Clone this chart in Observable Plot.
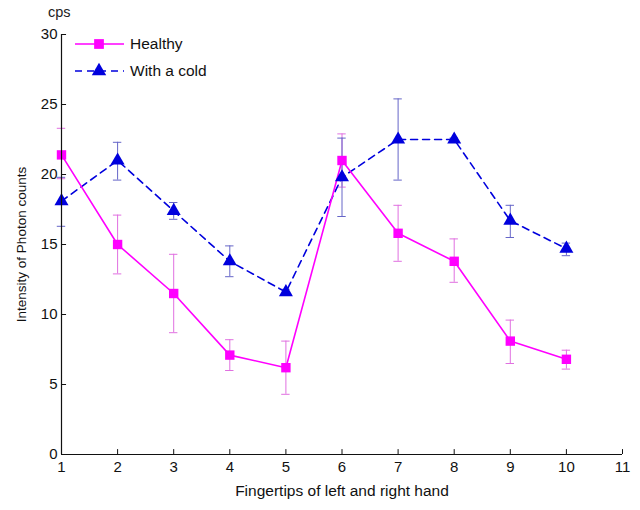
<!DOCTYPE html>
<html>
<head>
<meta charset="utf-8">
<script src="https://cdn.jsdelivr.net/npm/d3@7"></script>
<script src="https://cdn.jsdelivr.net/npm/@observablehq/plot@0.6"></script>
<style>
  body { margin: 0; background: #fff; font-family: "Liberation Sans", Arial, sans-serif; }
  #wrap { position: relative; width: 640px; height: 510px; }
  #cps { position: absolute; left: 48px; top: 4px; font-size: 14.5px; color: #222; }
  #legend { position: absolute; left: 74px; top: 30px; font-size: 15.5px; color: #111; }
  #legend div { height: 27px; display: flex; align-items: center; }
  #legend svg { margin-right: 4px; }
</style>
</head>
<body>
<div id="wrap">
  <div id="chart"></div>
  <div id="cps">cps</div>
  <div id="legend"></div>
</div>
<script>
const fingers = [1, 2, 3, 4, 5, 6, 7, 8, 9, 10];
const healthy = [21.4, 15.0, 11.5, 7.1, 6.2, 21.0, 15.8, 13.8, 8.1, 6.8];
const healthyLo = [19.7, 12.9, 8.7, 6.0, 4.3, 19.1, 13.8, 12.3, 6.5, 6.1];
const healthyHi = [23.3, 17.1, 14.3, 8.2, 8.1, 22.9, 17.8, 15.4, 9.6, 7.45];
const cold = [18.1, 21.0, 17.4, 13.8, 11.6, 19.8, 22.5, 22.5, 16.7, 14.7];
const coldLo = [16.3, 19.6, 16.8, 12.7, 11.4, 17.0, 19.6, 22.4, 15.5, 14.2];
const coldHi = [19.8, 22.3, 18.0, 14.9, 11.8, 22.6, 25.4, 22.6, 17.8, 15.1];
const xTicks = [1, 2, 3, 4, 5, 6, 7, 8, 9, 10, 11];
const yTicks = [0, 5, 10, 15, 20, 25, 30];
const seriesNames = ["Healthy", "With a cold"];

const magenta = "#ff00ff";
const magentaErr = "#e070e0";
const blue = "#0000dd";
const blueErr = "#6666c8";

const H = fingers.map((x, i) => ({x, y: healthy[i], lo: healthyLo[i], hi: healthyHi[i]}));
const C = fingers.map((x, i) => ({x, y: cold[i], lo: coldLo[i], hi: coldHi[i]}));
const cap = 0.075;

const plot = Plot.plot({
  width: 640,
  height: 510,
  marginLeft: 61,
  marginRight: 18,
  marginTop: 34,
  marginBottom: 56,
  style: {fontFamily: "Liberation Sans, Arial, sans-serif", fontSize: "15px", color: "#111"},
  x: {domain: [1, 11]},
  y: {domain: [0, 30]},
  marks: [
    Plot.ruleX(H, {x: "x", y1: "lo", y2: "hi", stroke: magentaErr, strokeWidth: 1}),
    Plot.ruleY(H, {y: "lo", x1: d => d.x - cap, x2: d => d.x + cap, stroke: magentaErr}),
    Plot.ruleY(H, {y: "hi", x1: d => d.x - cap, x2: d => d.x + cap, stroke: magentaErr}),
    Plot.ruleX(C, {x: "x", y1: "lo", y2: "hi", stroke: blueErr, strokeWidth: 1}),
    Plot.ruleY(C, {y: "lo", x1: d => d.x - cap, x2: d => d.x + cap, stroke: blueErr}),
    Plot.ruleY(C, {y: "hi", x1: d => d.x - cap, x2: d => d.x + cap, stroke: blueErr}),
    Plot.line(C, {x: "x", y: "y", stroke: blue, strokeWidth: 1.6, strokeDasharray: "7,5"}),
    Plot.line(H, {x: "x", y: "y", stroke: magenta, strokeWidth: 1.6}),
    Plot.dot(C, {x: "x", y: "y", symbol: "triangle", r: 5.2, fill: blue, stroke: "none"}),
    Plot.dot(H, {x: "x", y: "y", symbol: "square", r: 5.3, fill: magenta, stroke: "none"}),
    Plot.ruleX([1], {stroke: "#111", strokeWidth: 1.2}),
    Plot.ruleY([0], {stroke: "#111", strokeWidth: 1.2}),
    Plot.ruleX(xTicks, {x: d => d, y1: 0, y2: 0.35, stroke: "#111"}),
    Plot.ruleY(yTicks, {y: d => d, x1: 1, x2: 1.09, stroke: "#111"}),
    Plot.axisX(xTicks, {tickSize: 0, tickPadding: 7, label: "Fingertips of left and right hand", labelAnchor: "center", labelArrow: "none", labelOffset: 41, fontSize: 15}),
    Plot.axisY(yTicks, {tickSize: 0, tickPadding: 4, label: "Intensity of Photon counts", labelAnchor: "center", labelArrow: "none", labelOffset: 45, fontSize: 15})
  ]
});
document.getElementById("chart").appendChild(plot);
d3.select(plot).selectAll('g[aria-label="x-axis label"]').attr("font-size", 15.5);
d3.select(plot).selectAll('g[aria-label="y-axis label"]').attr("font-size", 13.5);

const leg = document.getElementById("legend");
const legSpecs = [
  {name: seriesNames[0], color: magenta, dash: null, sym: "square"},
  {name: seriesNames[1], color: blue, dash: "7,5", sym: "triangle"}
];
for (const s of legSpecs) {
  const row = document.createElement("div");
  const svg = d3.create("svg").attr("width", 52).attr("height", 20);
  svg.append("line").attr("x1", 1).attr("x2", 50).attr("y1", 10).attr("y2", 10)
    .attr("stroke", s.color).attr("stroke-width", 1.6).attr("stroke-dasharray", s.dash);
  const symType = s.sym === "square" ? d3.symbolSquare : d3.symbolTriangle;
  svg.append("path").attr("d", d3.symbol(symType, s.sym === "square" ? 95 : 90)())
    .attr("transform", "translate(25,10)").attr("fill", s.color);
  row.appendChild(svg.node());
  const t = document.createElement("span");
  t.textContent = s.name;
  row.appendChild(t);
  leg.appendChild(row);
}
</script>
</body>
</html>
